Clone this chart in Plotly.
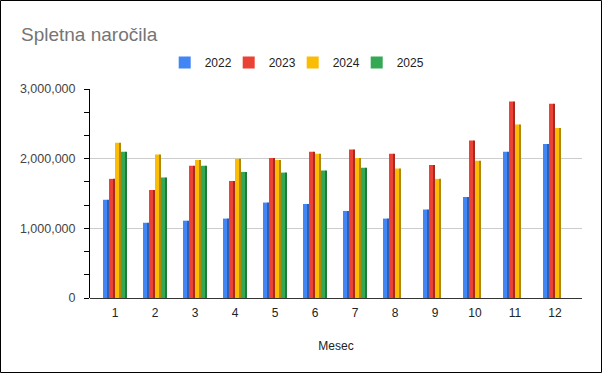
import plotly.graph_objects as go

months = [1, 2, 3, 4, 5, 6, 7, 8, 9, 10, 11, 12]
month_labels = [str(m) for m in months]
years = ["2022", "2023", "2024", "2025"]
v2022 = [1410000, 1080000, 1110000, 1140000, 1370000, 1350000, 1250000, 1140000, 1270000, 1450000, 2100000, 2210000]
v2023 = [1710000, 1550000, 1900000, 1680000, 2010000, 2100000, 2130000, 2070000, 1910000, 2260000, 2820000, 2790000]
v2024 = [2230000, 2060000, 1980000, 2000000, 1980000, 2070000, 2010000, 1860000, 1710000, 1970000, 2490000, 2440000]
v2025 = [2100000, 1730000, 1900000, 1810000, 1800000, 1830000, 1870000, None, None, None, None, None]
series = [v2022, v2023, v2024, v2025]
y_ticks = [0, 1000000, 2000000, 3000000]
y_tick_labels = ["0", "1,000,000", "2,000,000", "3,000,000"]

colors = ["#4285F4", "#EA4335", "#FBBC04", "#34A853"]
dark = ["#2B5FB8", "#A8291E", "#B38600", "#1F7A3A"]

fig = go.Figure()
slot = 0.15
face = 0.11
side = 0.04
for i, (name, vals) in enumerate(zip(years, series)):
    off = -0.3 + i * slot
    fig.add_trace(go.Bar(
        x=months, y=vals, name=name, marker_color=colors[i],
        marker_line_width=0, offset=off, width=face,
    ))
    fig.add_trace(go.Bar(
        x=months, y=vals, name=name, marker_color=dark[i],
        marker_line_width=0, offset=off + face, width=side,
        showlegend=False, hoverinfo="skip",
    ))
# spacer legend entry (keeps the last legend label from being clipped)
fig.add_trace(go.Bar(x=[None], y=[None], name=" ", marker_color="rgba(0,0,0,0)",
                     marker_line_width=0, hoverinfo="skip"))

font_main = "Liberation Sans, Arial, sans-serif"
fig.update_layout(
    width=602, height=373,
    margin=dict(l=90, r=20, t=89, b=75),
    paper_bgcolor="white", plot_bgcolor="white",
    barmode="overlay",
    title=dict(text="Spletna naročila", x=21/602, xanchor="left", y=1-34/373, yanchor="middle",
               font=dict(family=font_main, size=19, color="#757575")),
    legend=dict(orientation="h", x=(184.7-20-90)/492, xanchor="left", y=1 + (89-62.5)/209, yanchor="middle",
                font=dict(family=font_main, size=12, color="#222222"),
                itemwidth=30, entrywidth=19, entrywidthmode="pixels", tracegroupgap=0),
    xaxis=dict(range=[0.375, 12.675], tickmode="array", tickvals=months, ticktext=month_labels,
               showgrid=False, ticks="", showline=False, zeroline=False,
               ticklabelstandoff=6,
               tickfont=dict(family=font_main, size=12, color="#222222"),
               title=dict(text="Mesec", font=dict(family=font_main, size=12, color="#222222"), standoff=22)),
    yaxis=dict(range=[0, 3000000], tickmode="array", tickvals=y_ticks, ticktext=y_tick_labels,
               showgrid=True, gridcolor="#CCCCCC", gridwidth=1,
               zeroline=True, zerolinecolor="#333333", zerolinewidth=1,
               showline=True, linecolor="#000000", linewidth=1,
               ticks="", ticklen=5, ticklabelstandoff=11,
               minor=dict(dtick=1000000/3, ticks="outside", ticklen=5, tickcolor="#000000", showgrid=False),
               tickfont=dict(family=font_main, size=12.5, color="#444444")),
    shapes=[dict(type="rect", xref="paper", yref="paper",
                 x0=(0.5-90)/492, x1=(601.5-90)/492, y0=(298-372.5)/209, y1=(298-0.5)/209,
                 line=dict(color="#000000", width=1), fillcolor="rgba(0,0,0,0)", layer="above")],
)

fig.write_html("out.html", config={"displayModeBar": False},
               post_script="document.body.style.margin='0';document.body.style.overflow='hidden';")
